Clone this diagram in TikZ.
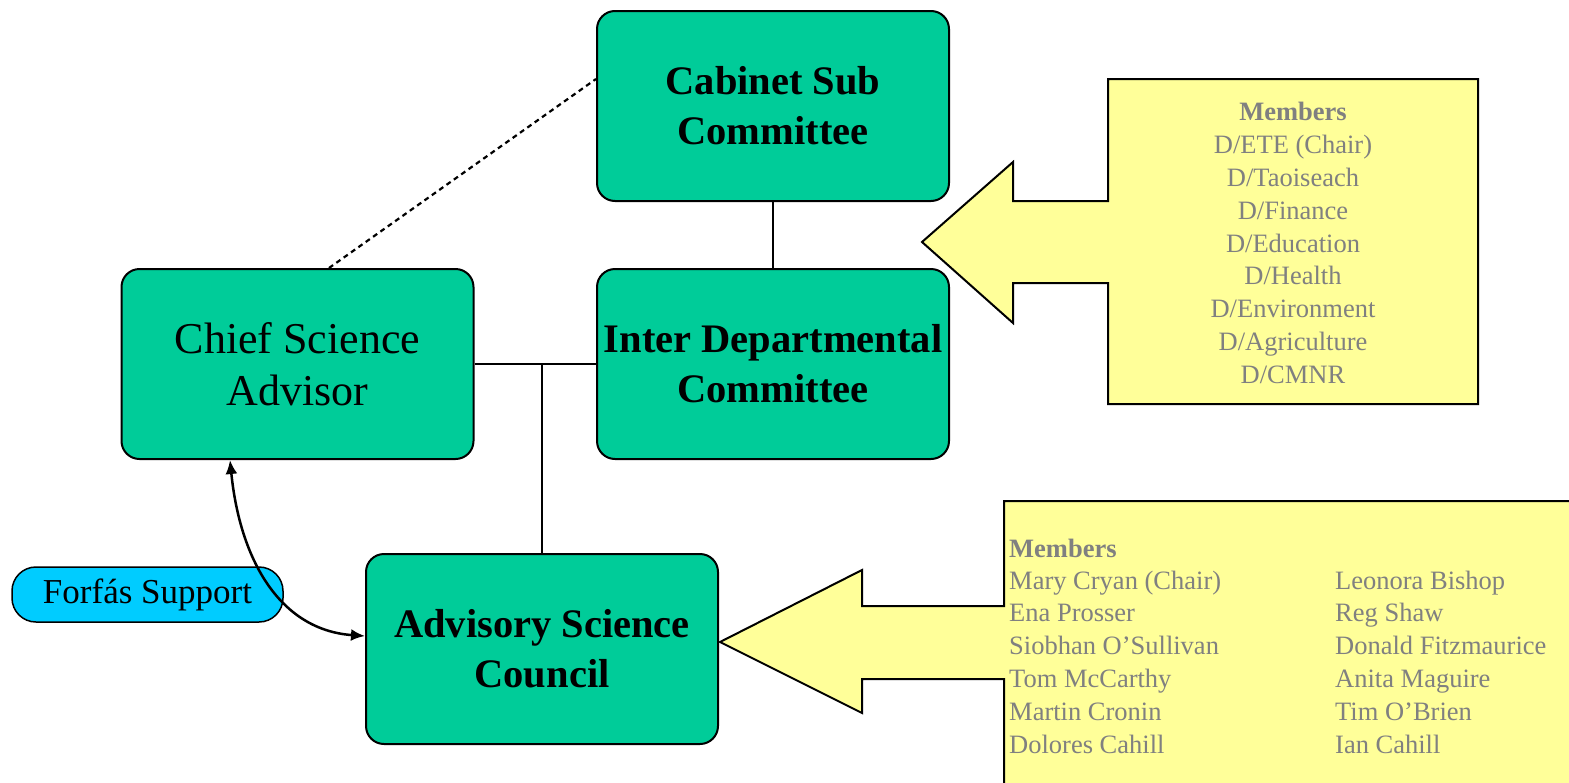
\documentclass[tikz,border=0pt]{standalone}
\usepackage{fontspec}
\setmainfont{Liberation Serif}
\usetikzlibrary{arrows.meta,calc}
\definecolor{boxgreen}{HTML}{00CC99}
\definecolor{calloutyellow}{HTML}{FFFF99}
\definecolor{supportcyan}{HTML}{00CCFF}
\definecolor{membergray}{HTML}{808080}
\tikzset{
  greenbox/.style={draw=black, line width=2, fill=boxgreen, rounded corners=18,
    minimum width=352, minimum height=190, align=center, inner sep=0},
  boldtext/.style={font=\fontsize{40.5}{50}\selectfont\bfseries},
  regtext/.style={font=\fontsize{44}{52}\selectfont},
  supportbox/.style={draw=black, line width=1.5, fill=supportcyan, rounded corners=24,
    minimum width=271, minimum height=55, inner sep=0, font=\fontsize{35}{40}\selectfont},
  connector/.style={draw=black, line width=1.5},
  dotline/.style={draw=black, line width=2.2, dash pattern=on 5 off 4},
  dblarrow/.style={draw=black, line width=2.5, {Latex[length=14,width=12]}-{Latex[length=14,width=12]}},
  callout/.style={draw=black, line width=2, fill=calloutyellow},
  membertext/.style={text=membergray, inner sep=0, font=\fontsize{26.5}{32.8}\selectfont},
}
\begin{document}
\begin{tikzpicture}[x=1pt,y=-1pt]
\useasboundingbox (0,0) rectangle (1569,782);
\clip (0,0) rectangle (1569,782);
% callouts
\path[callout] (1108,79) -- (1478,79) -- (1478,404) -- (1108,404) -- (1108,283) -- (1013,283)
  -- (1013,323) -- (922,242) -- (1013,162) -- (1013,201) -- (1108,201) -- cycle;
\path[callout] (1004,501) -- (1580,501) -- (1580,795) -- (1004,795) -- (1004,679) -- (862,679)
  -- (862,713) -- (720,642) -- (862,570) -- (862,606) -- (1004,606) -- cycle;
% boxes
\node[greenbox, boldtext] (cab) at (773,106) {Cabinet Sub\\Committee};
\node[greenbox, boldtext] (inter) at (773,364) {Inter Departmental\\Committee};
\node[greenbox, regtext] (chief) at (297.5,364) {Chief Science\\Advisor};
\node[greenbox, boldtext] (adv) at (542,649) {Advisory Science\\Council};
\node[supportbox] (forfas) at (147.5,594.5) {Forfás Support};
% connectors
\draw[connector] (cab.south) -- (inter.north);
\draw[connector] (chief.east) -- (inter.west);
\coordinate (junction) at (542,364);
\draw[connector] (junction) -- (adv.north);
\draw[dotline] ([xshift=31.5]chief.north) -- ([yshift=27]cab.west);
\draw[dblarrow] ([xshift=-67.5]chief.south) .. controls (240,560) and (280,630) .. ([yshift=13]adv.west);
% member lists
\node[membertext, align=center] (deptlist) at (1293,243)
  {\textbf{Members}\\D/ETE (Chair)\\D/Taoiseach\\D/Finance\\D/Education\\D/Health\\D/Environment\\D/Agriculture\\D/CMNR};
\node[membertext, anchor=west] (asctitle) at (1009,548) {\textbf{Members}};
\node[membertext, align=left, anchor=west] (asccol1) at (1009,662)
  {Mary Cryan (Chair)\\Ena Prosser\\Siobhan O’Sullivan\\Tom McCarthy\\Martin Cronin\\Dolores Cahill};
\node[membertext, align=left, anchor=west] (asccol2) at (1335,662)
  {Leonora Bishop\\Reg Shaw\\Donald Fitzmaurice\\Anita Maguire\\Tim O’Brien\\Ian Cahill};
\end{tikzpicture}
\end{document}
